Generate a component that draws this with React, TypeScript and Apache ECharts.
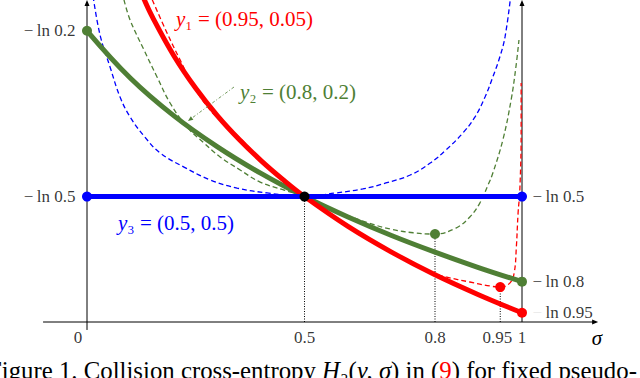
import React, { useEffect, useRef } from 'react';
import * as echarts from 'echarts';

// ---- data (sigma, value) ----
const redThickSigma = [0.13, 0.15, 0.2, 0.25, 0.3, 0.35, 0.4, 0.45, 0.5, 0.6, 0.7, 0.8, 0.9, 1.0];
const redThickValue = [1.79, 1.687, 1.47, 1.291, 1.139, 1.008, 0.892, 0.788, 0.693, 0.528, 0.386, 0.261, 0.151, 0.051];

const greenThickSigma = [0, 0.1, 0.2, 0.3, 0.4, 0.5, 0.6, 0.7, 0.8, 0.9, 1.0];
const greenThickValue = [1.609, 1.347, 1.139, 0.968, 0.821, 0.693, 0.58, 0.478, 0.386, 0.301, 0.223];

const blueThickSigma = [0, 1];
const blueThickValue = [0.693, 0.693];

const blueDashSigma = [0.014, 0.03, 0.053, 0.076, 0.099, 0.133, 0.168, 0.223, 0.283, 0.345, 0.414, 0.5, 0.572, 0.634, 0.687, 0.743, 0.789, 0.825, 0.864, 0.892, 0.915, 0.933, 0.949, 0.961, 0.974];
const blueDashValue = [1.8, 1.586, 1.409, 1.243, 1.133, 1.022, 0.934, 0.856, 0.785, 0.74, 0.713, 0.693, 0.713, 0.735, 0.768, 0.812, 0.878, 0.95, 1.044, 1.133, 1.243, 1.354, 1.464, 1.575, 1.8];

const greenDashSigma = [0.085, 0.099, 0.131, 0.161, 0.191, 0.23, 0.269, 0.306, 0.352, 0.398, 0.453, 0.5, 0.55, 0.6, 0.65, 0.7, 0.75, 0.8, 0.848, 0.88, 0.903, 0.922, 0.933, 0.956, 0.975, 0.986, 0.993];
const greenDashValue = [1.78, 1.669, 1.503, 1.354, 1.21, 1.077, 0.989, 0.912, 0.84, 0.773, 0.729, 0.693, 0.635, 0.588, 0.545, 0.512, 0.493, 0.486, 0.519, 0.58, 0.657, 0.757, 0.823, 1.006, 1.227, 1.409, 1.558];

const redDashSigma = [0.15, 0.184, 0.214, 0.246, 0.283, 0.31, 0.35, 0.4, 0.45, 0.5, 0.6, 0.7, 0.8, 0.825, 0.88, 0.926, 0.95, 0.972, 0.982, 0.987, 0.991, 0.995, 0.998, 0.998];
const redDashValue = [1.78, 1.597, 1.448, 1.298, 1.171, 1.105, 1.02, 0.897, 0.79, 0.693, 0.531, 0.392, 0.268, 0.249, 0.221, 0.199, 0.193, 0.215, 0.271, 0.414, 0.602, 0.729, 1.044, 1.32];

const greenDots = [[0, 1.609], [0.8, 0.486], [1, 0.223]];
const blueDots = [[0, 0.693], [1, 0.693]];
const redDots = [[0.95, 0.193], [1, 0.051]];
const blackDots = [[0.5, 0.693]];

const guideSigma = [0.5, 0.8, 0.95];
const guideTop = [0.693, 0.486, 0.193];

const xTickValues = [0, 0.5, 0.8, 0.95, 1];
const xTickLabels = ['0', '0.5', '0.8', '0.95', '1'];
const leftTickValues = [1.609, 0.693];
const leftTickLabels = ['ln 0.2', 'ln 0.5'];
const rightTickValues = [0.693, 0.223, 0.051];
const rightTickLabels = ['ln 0.5', 'ln 0.8', 'ln 0.95'];

const X_MIN = 0, X_MAX = 1, Y_MIN = 0, Y_MAX = 1.779;
// extents of the drawn axis lines (data units)
const X_AXIS_FROM = -0.101, X_AXIS_TO = 1.175, Y_AXIS_FROM = -0.044;

const RED = '#ff0000';
const GREEN = '#4f7f35';
const BLUE = '#0000ff';
const MATH = '"Liberation Serif", "DejaVu Serif", serif';

const zip = (xs: number[], ys: number[]) => xs.map((x, i) => [x, ys[i]]);

export default function App() {
  const ref = useRef<HTMLDivElement>(null);
  useEffect(() => {
    const chart = echarts.init(ref.current!, null, { renderer: 'svg' });

    const curve = (name: string, xs: number[], ys: number[], color: string, width: number, dashed: boolean, z: number) => ({
      name,
      type: 'line',
      data: zip(xs, ys),
      smooth: 0.4,
      symbol: 'none',
      showSymbol: false,
      clip: true,
      z,
      lineStyle: { color, width, type: dashed ? [5, 3] : 'solid', cap: 'butt' },
      silent: true,
    });

    const dots = (data: number[][], color: string) => ({
      type: 'scatter',
      data,
      symbol: 'circle',
      symbolSize: 10,
      itemStyle: { color, opacity: 1 },
      z: 20,
      silent: true,
      clip: false,
    });

    const guides = guideSigma.map((s, i) => ({
      type: 'line',
      data: [[s, 0], [s, guideTop[i]]],
      symbol: 'none',
      lineStyle: { color: '#000', width: 1, type: [1, 1.5] },
      z: 1,
      silent: true,
    }));

    const labelRich = {
      m: { fontFamily: MATH, fontSize: 17, color: '#000' },
      g: { fontFamily: MATH, fontSize: 17, color: '#e2e2e2' },
      t: { fontFamily: MATH, fontSize: 17, color: '#000' },
    };

    const textGraphics: any[] = [
      {
        type: 'text',
        x: 176,
        y: 19,
        z: 50,
        style: {
          text: '{i|y}{n|₁ = (0.95, 0.05)}',
          fill: RED,
          verticalAlign: 'middle',
          rich: {
            i: { fontFamily: MATH, fontStyle: 'italic', fontSize: 21, fill: RED },
            n: { fontFamily: MATH, fontSize: 21, fill: RED },
          },
        },
      },
      {
        type: 'text',
        x: 240,
        y: 92,
        z: 50,
        style: {
          text: '{i|y}{n|₂ = (0.8, 0.2)}',
          fill: GREEN,
          verticalAlign: 'middle',
          rich: {
            i: { fontFamily: MATH, fontStyle: 'italic', fontSize: 21, fill: GREEN },
            n: { fontFamily: MATH, fontSize: 21, fill: GREEN },
          },
        },
      },
      {
        type: 'text',
        x: 118,
        y: 223,
        z: 50,
        style: {
          text: '{i|y}{n|₃ = (0.5, 0.5)}',
          fill: BLUE,
          verticalAlign: 'middle',
          rich: {
            i: { fontFamily: MATH, fontStyle: 'italic', fontSize: 21, fill: BLUE },
            n: { fontFamily: MATH, fontSize: 21, fill: BLUE },
          },
        },
      },
      {
        type: 'line',
        shape: { x1: 234, y1: 87, x2: 190, y2: 119.5 },
        style: { stroke: GREEN, lineWidth: 0.8, lineDash: [3, 2, 1, 2] },
        z: 40,
      },
      {
        type: 'polygon',
        shape: { points: [[188, 121], [193.4, 119.8], [190.8, 116.2]] },
        style: { fill: GREEN },
        z: 40,
      },
      {
        type: 'text',
        x: 597,
        y: 338,
        z: 50,
        style: {
          text: 'σ',
          font: `italic 21px ${MATH}`,
          fill: '#000',
          align: 'center',
          verticalAlign: 'middle',
        },
      },
      {
        type: 'text',
        x: -12,
        y: 383,
        z: 50,
        style: {
          text: '{n|Figure 1. Collision cross-entropy }{i|H}{n|₂(}{i|y, σ}{n|) in (}{r|9}{n|) for fixed pseudo-}',
          verticalAlign: 'bottom',
          rich: {
            n: { fontFamily: MATH, fontSize: 24.8, fill: '#000' },
            i: { fontFamily: MATH, fontSize: 24.8, fontStyle: 'italic', fill: '#000' },
            r: { fontFamily: MATH, fontSize: 24.8, fill: RED },
          },
        },
      },
    ];

    const option: any = {
      animation: false,
      backgroundColor: '#fff',
      grid: { left: 87, top: 0, width: 435, height: 322 },
      xAxis: { type: 'value', min: X_MIN, max: X_MAX, show: false },
      yAxis: { type: 'value', min: Y_MIN, max: Y_MAX, show: false },
      series: [
        ...guides,
        curve('blueDash', blueDashSigma, blueDashValue, BLUE, 1.3, true, 3),
        curve('greenDash', greenDashSigma, greenDashValue, GREEN, 1.3, true, 3),
        curve('redDash', redDashSigma, redDashValue, RED, 1.3, true, 3),
        curve('greenThick', greenThickSigma, greenThickValue, GREEN, 5, false, 5),
        curve('redThick', redThickSigma, redThickValue, RED, 5, false, 6),
        curve('blueThick', blueThickSigma, blueThickValue, BLUE, 5, false, 7),
        dots(greenDots, GREEN),
        dots(blueDots, BLUE),
        dots(redDots, RED),
        dots(blackDots, '#000'),
        // x tick labels
        {
          type: 'scatter',
          symbolSize: 1,
          itemStyle: { color: 'rgba(0,0,0,0)' },
          silent: true,
          clip: false,
          z: 30,
          data: xTickValues.map((v, i) => ({
            value: [v, 0],
            name: xTickLabels[i],
            label: { offset: [v === 0 ? -9 : v === 0.95 ? -3 : 0, 0] },
          })),
          label: {
            show: true,
            position: 'bottom',
            distance: 6,
            formatter: '{b}',
            fontFamily: MATH,
            fontSize: 17,
            color: '#000',
          },
        },
        // left y labels
        {
          type: 'scatter',
          symbolSize: 1,
          itemStyle: { color: 'rgba(0,0,0,0)' },
          silent: true,
          clip: false,
          z: 30,
          data: leftTickValues.map((v, i) => ({ value: [0, v], name: leftTickLabels[i] })),
          label: {
            show: true,
            position: 'left',
            distance: 11,
            formatter: (p: any) => `{m|−} {t|${p.name}}`,
            rich: labelRich,
          },
        },
        // right y labels
        {
          type: 'scatter',
          symbolSize: 1,
          itemStyle: { color: 'rgba(0,0,0,0)' },
          silent: true,
          clip: false,
          z: 30,
          data: rightTickValues.map((v, i) => ({ value: [1, v], name: rightTickLabels[i] })),
          label: {
            show: true,
            position: 'right',
            distance: 10,
            formatter: (p: any) => `{${p.dataIndex === 2 ? 'g' : 'm'}|−} {t|${p.name}}`,
            rich: labelRich,
          },
        },
      ],
      graphic: textGraphics,
    };

    chart.setOption(option);

    // axis lines placed through the grid's own coordinate conversion
    const px = (x: number, y: number) => chart.convertToPixel({ gridIndex: 0 }, [x, y]) as number[];
    const xa0 = px(X_AXIS_FROM, 0);
    const xa1 = px(X_AXIS_TO, 0);
    const ya0 = px(0, Y_AXIS_FROM);
    const ya1 = px(0, Y_MAX);
    const ra0 = px(1, 0);
    const ra1 = px(1, Y_MAX);
    const axisStyle = { stroke: '#000', lineWidth: 1 };
    const axisGraphics: any[] = [
      { type: 'line', z: 2, shape: { x1: xa0[0], y1: xa0[1], x2: xa1[0] - 2, y2: xa1[1] }, style: axisStyle },
      { type: 'line', z: 2, shape: { x1: ya0[0], y1: ya0[1], x2: ya1[0], y2: ya1[1] + 2 }, style: axisStyle },
      { type: 'line', z: 2, shape: { x1: ra0[0], y1: ra0[1], x2: ra1[0], y2: ra1[1] + 2 }, style: axisStyle },
      {
        type: 'polygon', z: 2,
        shape: { points: [[xa1[0], xa1[1]], [xa1[0] - 6, xa1[1] - 2.5], [xa1[0] - 6, xa1[1] + 2.5]] },
        style: { fill: '#000' },
      },
      {
        type: 'polygon', z: 2,
        shape: { points: [[ya1[0], ya1[1]], [ya1[0] - 2.5, ya1[1] + 6], [ya1[0] + 2.5, ya1[1] + 6]] },
        style: { fill: '#000' },
      },
      {
        type: 'polygon', z: 2,
        shape: { points: [[ra1[0], ra1[1]], [ra1[0] - 2.5, ra1[1] + 6], [ra1[0] + 2.5, ra1[1] + 6]] },
        style: { fill: '#000' },
      },
    ];
    chart.setOption({ graphic: [...textGraphics, ...axisGraphics] });

    return () => chart.dispose();
  }, []);

  return (
    <div
      ref={ref}
      style={{ position: 'absolute', left: 0, top: 0, width: 640, height: 378, background: '#fff' }}
    />
  );
}
